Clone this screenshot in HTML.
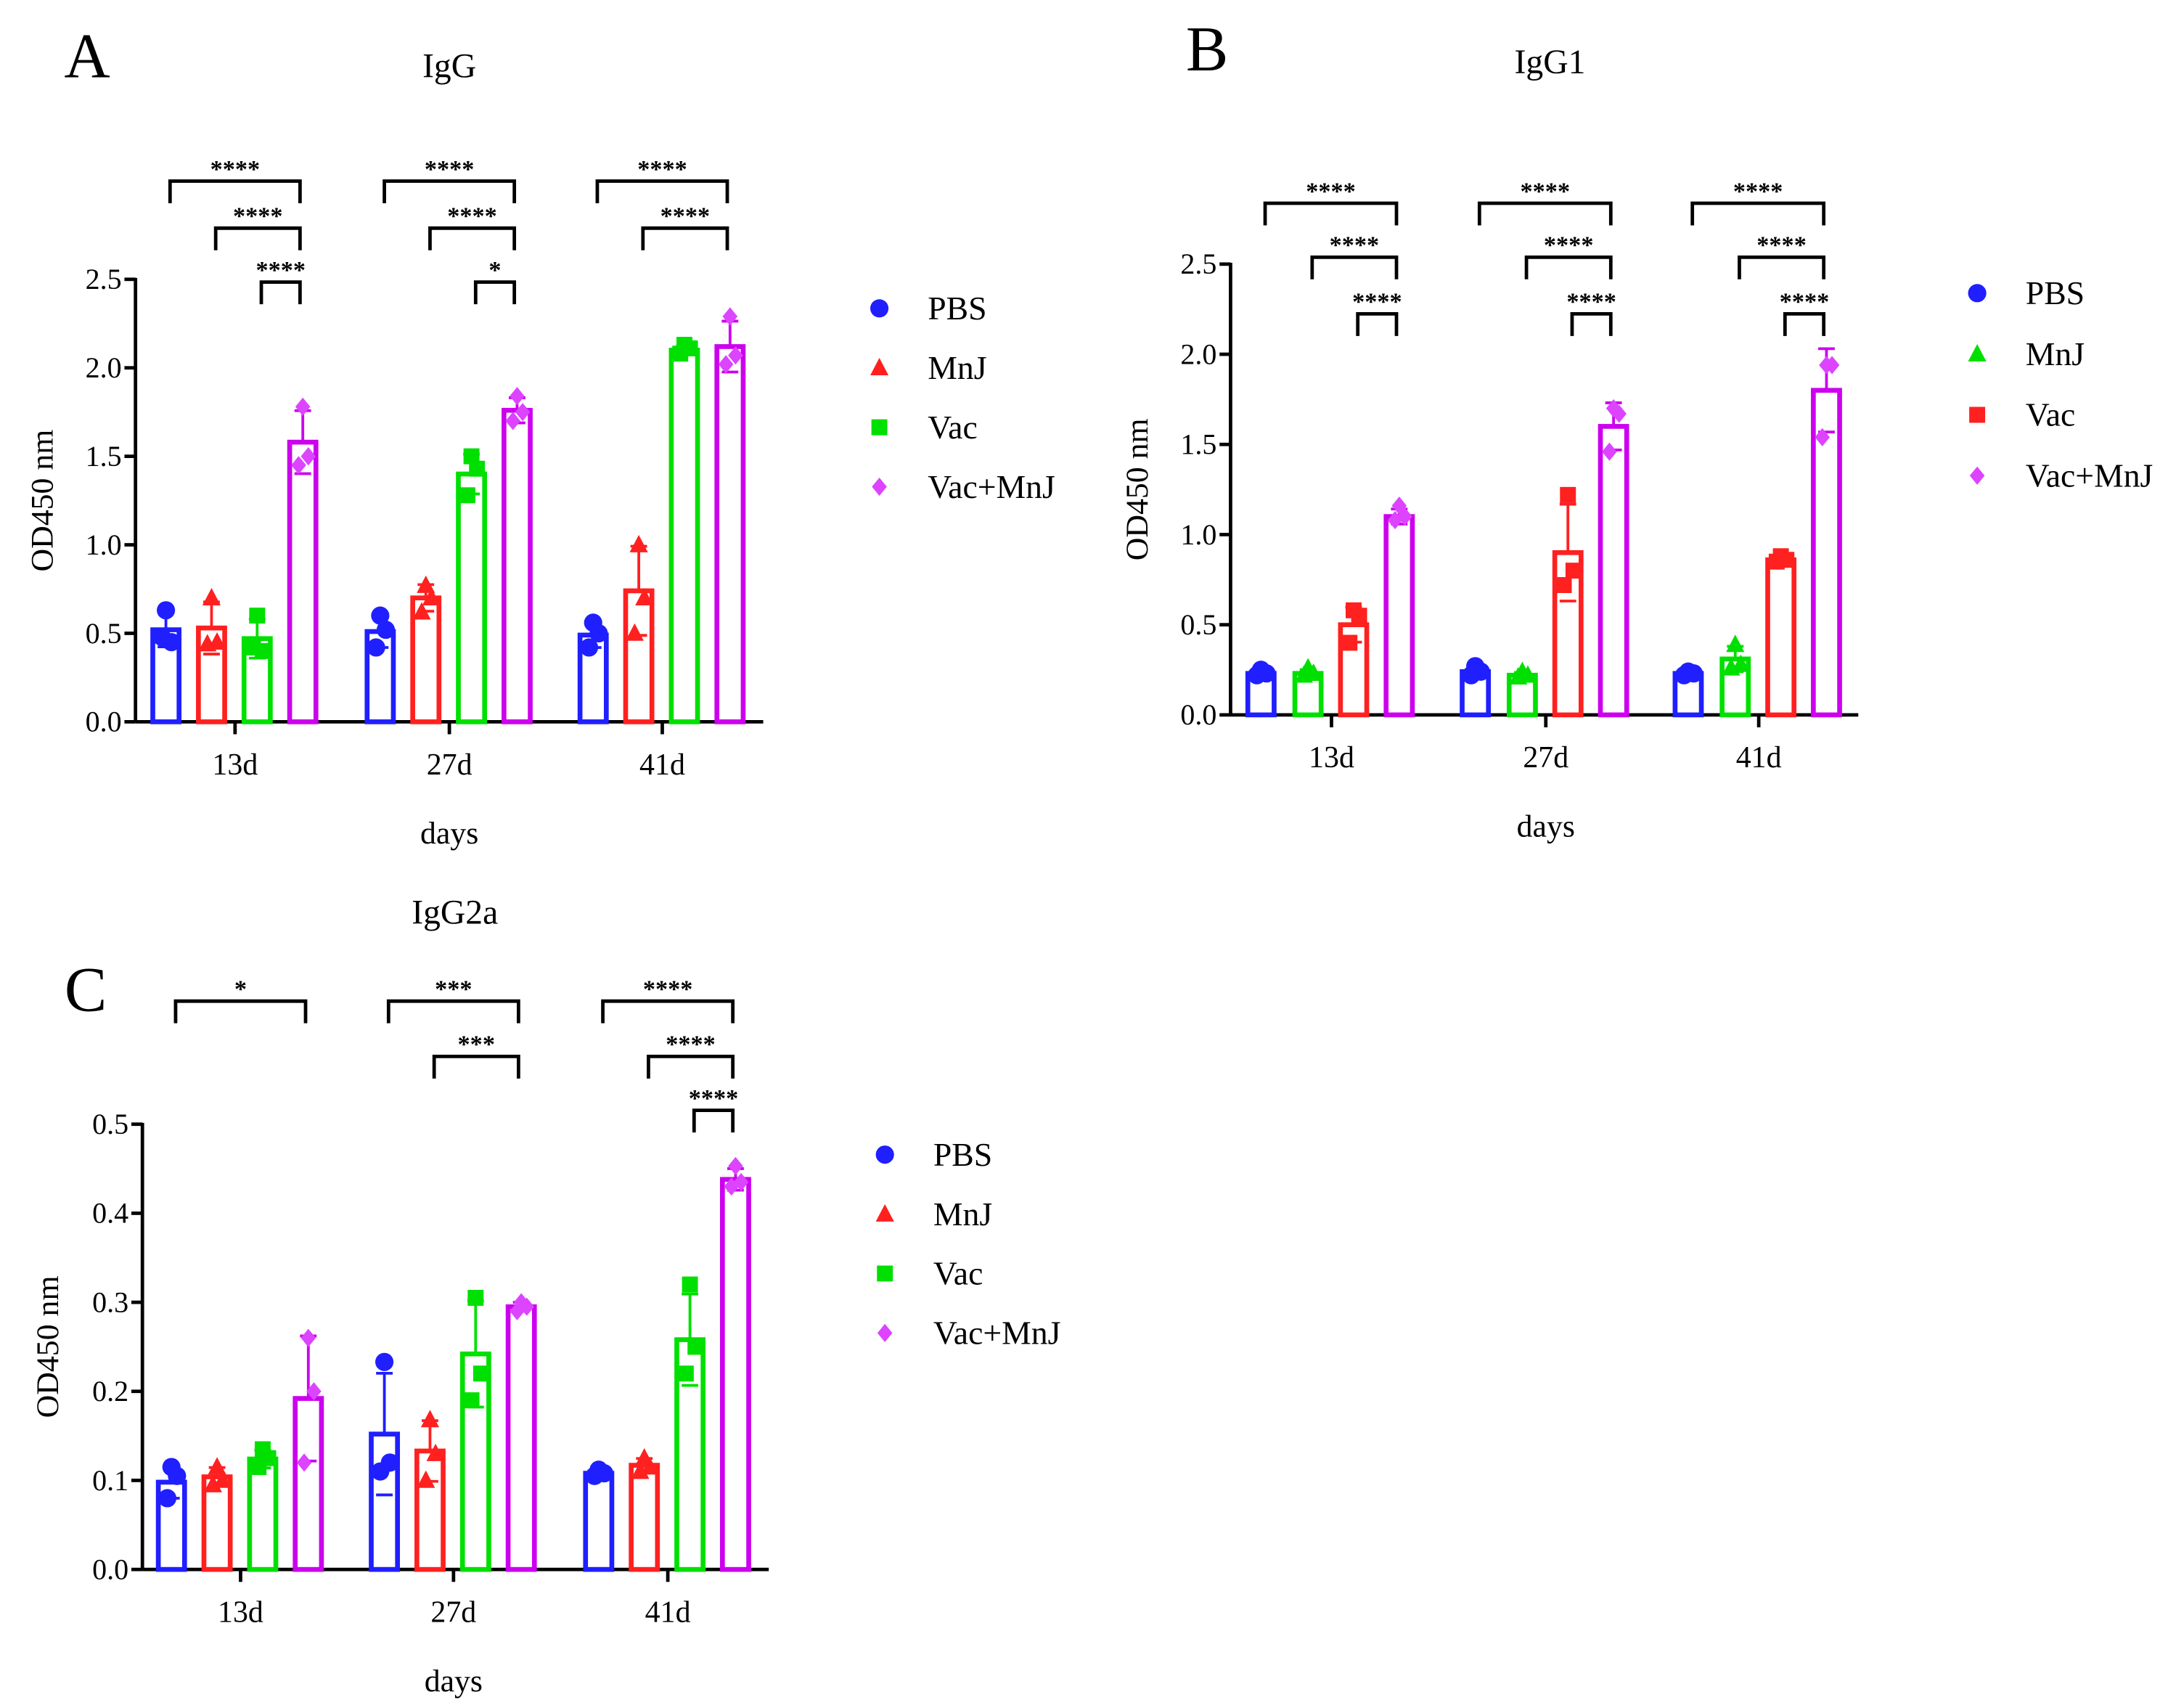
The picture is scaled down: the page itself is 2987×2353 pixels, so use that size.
<!DOCTYPE html>
<html><head><meta charset="utf-8"><style>
html,body{margin:0;padding:0;background:#fff}
svg{display:block}
text{font-family:"Liberation Serif",serif;fill:#000}
</style></head><body>
<svg id="fig" width="2987" height="2353" viewBox="0 0 1568 1235.2" preserveAspectRatio="none" xmlns="http://www.w3.org/2000/svg"></svg>
<script>
const days = ["13d","27d","41d"];
const groupsA = ["PBS","MnJ","Vac","Vac+MnJ"];
const groupsB = ["PBS","MnJ","Vac","Vac+MnJ"];
const groupsC = ["PBS","MnJ","Vac","Vac+MnJ"];
const meanA = [[0.52,0.51,0.49],[0.53,0.70,0.74],[0.47,1.40,2.10],[1.58,1.76,2.12]];
const ptsA = [
 [[0.63,0.45,0.48],[0.60,0.52,0.42],[0.56,0.50,0.42]],
 [[0.70,0.45,0.44],[0.77,0.70,0.62],[1.00,0.70,0.50]],
 [[0.60,0.40,0.42],[1.50,1.43,1.28],[2.13,2.11,2.08]],
 [[1.78,1.50,1.45],[1.84,1.75,1.70],[2.29,2.07,2.02]]];
const meanB = [[0.23,0.24,0.23],[0.23,0.22,0.31],[0.50,0.90,0.86],[1.10,1.60,1.80]];
const ptsB = [
 [[0.25,0.23,0.22],[0.27,0.24,0.22],[0.24,0.23,0.22]],
 [[0.26,0.23,0.22],[0.24,0.22,0.21],[0.39,0.28,0.26]],
 [[0.58,0.55,0.40],[1.22,0.80,0.72],[0.88,0.86,0.85]],
 [[1.16,1.10,1.08],[1.70,1.67,1.46],[1.94,1.94,1.54]]];
const meanC = [[0.098,0.152,0.108],[0.104,0.133,0.117],[0.124,0.242,0.258],[0.192,0.295,0.438]];
const ptsC = [
 [[0.115,0.105,0.08],[0.233,0.12,0.11],[0.112,0.108,0.105]],
 [[0.115,0.10,0.095],[0.168,0.13,0.10],[0.125,0.115,0.11]],
 [[0.135,0.125,0.115],[0.305,0.22,0.19],[0.32,0.25,0.22]],
 [[0.26,0.20,0.12],[0.30,0.295,0.29],[0.453,0.435,0.43]]];
const ticksA = ["0.0","0.5","1.0","1.5","2.0","2.5"];
const ticksC = ["0.0","0.1","0.2","0.3","0.4","0.5"];
const sigA = [[0,0,3,0,"****"],[0,1,3,1,"****"],[0,2,3,2,"****"],[1,0,3,0,"****"],[1,1,3,1,"****"],[1,2,3,2,"*"],[2,0,3,0,"****"],[2,1,3,1,"****"]];
const sigB = [[0,0,3,0,"****"],[0,1,3,1,"****"],[0,2,3,2,"****"],[1,0,3,0,"****"],[1,1,3,1,"****"],[1,2,3,2,"****"],[2,0,3,0,"****"],[2,1,3,1,"****"],[2,2,3,2,"****"]];
const sigC = [[0,0,3,0,"*"],[1,0,3,0,"***"],[1,1,3,1,"***"],[2,0,3,0,"****"],[2,1,3,1,"****"],[2,2,3,2,"****"]];

const BLUE="#1f1fff",RED="#ff2020",GREEN="#00e000",MAG="#cc00ee",MAGP="#dd44ff";
const SERIF="'Liberation Serif', serif";
const NS="http://www.w3.org/2000/svg";
const svg=document.getElementById('fig');
function mk(tag,attrs,parent,name,txt){const e=document.createElementNS(NS,tag);for(const k in attrs)e.setAttribute(k,attrs[k]);
 
 
 if(tag==='text'&&!attrs['font-family'])e.setAttribute('font-family',SERIF);
 if(txt!==undefined)e.textContent=txt;(parent||svg).appendChild(e);return e;}
function marker(g,shape,x,y,s,col,name){
 if(shape==='circle')return mk('circle',{cx:x,cy:y,r:s*0.55,fill:col},g,name);
 if(shape==='tri')return mk('polygon',{points:`${x},${y-s*0.6} ${x-s*0.55},${y+s*0.45} ${x+s*0.55},${y+s*0.45}`,fill:col},g,name);
 if(shape==='sq')return mk('rect',{x:x-s*0.48,y:y-s*0.48,width:s*0.96,height:s*0.96,fill:col},g,name);
 return mk('polygon',{points:`${x},${y-s*0.55} ${x+s*0.45},${y} ${x},${y+s*0.55} ${x-s*0.45},${y}`,fill:col},g,name);
}
function sd(a){const m=a.reduce((s,v)=>s+v,0)/a.length;return Math.sqrt(a.reduce((s,v)=>s+(v-m)*(v-m),0)/(a.length-1));}

function panel(o){
 const g=mk('g',{},svg,o.id);
 const y=v=>o.y0-(v/o.ymax)*(o.y0-o.ytop);
 const cx=(d,k)=>o.gx[d]+o.off[k];
 mk('text',{x:o.letter[0],y:o.letter[1],'font-size':46,'text-anchor':'middle'},g,'panel-letter',o.L);
 mk('text',{x:o.title[0],y:o.title[1],'font-size':25,'text-anchor':'middle'},g,'chart-title',o.T);
 mk('line',{x1:o.ax,y1:o.ytop-1,x2:o.ax,y2:o.y0,stroke:'#000','stroke-width':2.5},g,'y-axis');
 mk('line',{x1:o.ax,y1:o.y0,x2:o.axEnd,y2:o.y0,stroke:'#000','stroke-width':2.5},g,'x-axis');
 o.ticks.forEach((t,i)=>{const v=o.ymax*i/(o.ticks.length-1);
  mk('line',{x1:o.ax-8,y1:y(v),x2:o.ax,y2:y(v),stroke:'#000','stroke-width':2.5},g,'y-tick');
  mk('text',{x:o.ax-10,y:y(v)+7,'font-size':21,'text-anchor':'end'},g,'y-tick-label',t);});
 days.forEach((d,i)=>{
  mk('line',{x1:o.gx[i],y1:o.y0,x2:o.gx[i],y2:o.y0+9,stroke:'#000','stroke-width':2.5},g,'x-tick');
  mk('text',{x:o.gx[i],y:o.y0+38,'font-size':22,'text-anchor':'middle'},g,'x-tick-label',d);});
 mk('text',{x:o.gx[1],y:o.y0+88,'font-size':23,'text-anchor':'middle'},g,'x-axis-title','days');
 mk('text',{x:o.ytx,y:(o.y0+o.ytop)/2,'font-size':23,'text-anchor':'middle',transform:`rotate(-90 ${o.ytx} ${(o.y0+o.ytop)/2})`},g,'y-axis-title','OD450 nm');
 for(let k=0;k<4;k++)for(let d=0;d<3;d++){
  const x=cx(d,k),m=o.mean[k][d],col=o.cols[k],w=19;
  mk('rect',{x:x-w/2,y:y(m),width:w,height:o.y0-y(m),fill:'#fff',stroke:col,'stroke-width':3.5},g,'bar-'+o.groups[k]+'-'+days[d]);
  const e=sd(o.pts[k][d]);
  mk('line',{x1:x,y1:y(m+e),x2:x,y2:y(m),stroke:col,'stroke-width':2},g,'error-bar');
  mk('line',{x1:x-6,y1:y(m+e),x2:x+6,y2:y(m+e),stroke:col,'stroke-width':2},g,'error-cap');
  mk('line',{x1:x-6,y1:y(Math.max(0,m-e)),x2:x+6,y2:y(Math.max(0,m-e)),stroke:col,'stroke-width':2},g,'error-cap');
  o.pts[k][d].forEach((v,j)=>marker(g,o.shapes[k],x+[0,4,-3][j],y(v),12,o.pcols[k],'data-point'));
 }
 o.sig.forEach(s=>{const [d,a,b,l,lab]=s;
  const x1=cx(d,a)+3,x2=cx(d,b)-2,yy=o.sigY[l];
  mk('path',{d:`M${x1},${yy+16}V${yy}H${x2}V${yy+16}`,fill:'none',stroke:'#000','stroke-width':2.5},g,'significance-bracket');
  mk('text',{x:(x1+x2)/2,y:yy-3,'font-size':18,'font-weight':'bold','text-anchor':'middle','font-family':'Liberation Sans, sans-serif'},g,'significance-label',lab);});
 o.groups.forEach((n,i)=>{
  const ly=o.leg[1]+i*o.legdy;
  const lg=mk('g',{},g,'legend-entry');
  marker(lg,o.shapes[i],o.leg[0],ly,12,o.pcols[i],'legend-marker');
  mk('text',{x:o.leg[0]+35,y:ly+8,'font-size':24},lg,'legend-label',n);});
}
panel({id:'panel-a-igg',L:'A',T:'IgG',letter:[63,56],title:[325,56],ax:98,axEnd:552,y0:522,ytop:202,ymax:2.5,ticks:ticksA,
 gx:[170,325,479],off:[-50,-17,16,49],mean:meanA,pts:ptsA,groups:groupsA,cols:[BLUE,RED,GREEN,MAG],pcols:[BLUE,RED,GREEN,MAGP],
 shapes:['circle','tri','sq','dia'],sig:sigA,sigY:[131,165,204],leg:[636,223],legdy:43,ytx:38});
panel({id:'panel-b-igg1',L:'B',T:'IgG1',letter:[873,51],title:[1121,53],ax:890,axEnd:1344,y0:517,ytop:191,ymax:2.5,ticks:ticksA,
 gx:[963,1118,1272],off:[-51,-17,16,49],mean:meanB,pts:ptsB,groups:groupsB,cols:[BLUE,GREEN,RED,MAG],pcols:[BLUE,GREEN,RED,MAGP],
 shapes:['circle','tri','sq','dia'],sig:sigB,sigY:[147,186,227],leg:[1430,212],legdy:44,ytx:830});
panel({id:'panel-c-igg2a',L:'C',T:'IgG2a',letter:[62,731],title:[329,668],ax:103,axEnd:556,y0:1135,ytop:813,ymax:0.5,ticks:ticksC,
 gx:[174,328,483],off:[-50,-17,16,49],mean:meanC,pts:ptsC,groups:groupsC,cols:[BLUE,RED,GREEN,MAG],pcols:[BLUE,RED,GREEN,MAGP],
 shapes:['circle','tri','sq','dia'],sig:sigC,sigY:[724,764,803],leg:[640,835],legdy:43,ytx:42});
</script>
</body></html>
